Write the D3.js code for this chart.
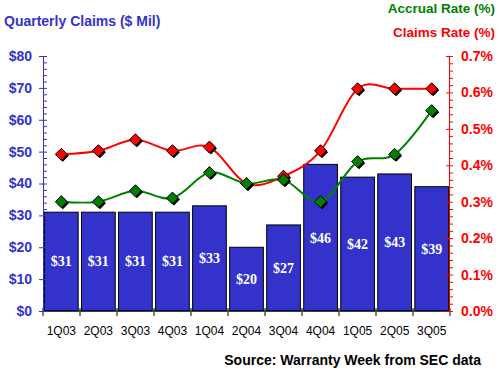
<!DOCTYPE html>
<html>
<head>
<meta charset="utf-8">
<script src="https://cdn.jsdelivr.net/npm/d3@7"></script>
<style>
  body { margin: 0; background: #fff; }
  svg { display: block; font-family: "Liberation Sans", Arial, sans-serif; }
</style>
</head>
<body>
<svg id="chart"></svg>
<script>
// данные графика
const quarters = ["1Q03", "2Q03", "3Q03", "4Q03", "1Q04", "2Q04", "3Q04", "4Q04", "1Q05", "2Q05", "3Q05"];
const claims = [31, 31, 31, 31, 33, 20, 27, 46, 42, 43, 39];
const claimsRate = [0.43, 0.44, 0.47, 0.44, 0.45, 0.35, 0.37, 0.44, 0.61, 0.61, 0.61];
const accrualRate = [0.30, 0.30, 0.33, 0.31, 0.38, 0.35, 0.36, 0.30, 0.41, 0.43, 0.55];
const leftTicks = [0, 10, 20, 30, 40, 50, 60, 70, 80];
const rightTicks = [0, 0.1, 0.2, 0.3, 0.4, 0.5, 0.6, 0.7];

const width = 500;
const height = 379;
const x0 = 43, x1 = 450;
const yTop = 56, yBottom = 311;
const blue = "#3333cc";

let svg = d3.select("#chart")
  .attr("width", width)
  .attr("height", height);

// шкалы
let scX = d3.scaleBand()
  .domain(quarters)
  .range([x0, x1])
  .paddingInner(0.09)
  .paddingOuter(0.04);

let scL = d3.scaleLinear().domain([0, 80]).range([yBottom, yTop]);
let scR = d3.scaleLinear().domain([0, 0.7]).range([yBottom, yTop]);

// столбцы
let bars = svg.append("g");
bars.selectAll("rect")
  .data(claims)
  .enter()
  .append("rect")
  .attr("x", (d, i) => scX(quarters[i]))
  .attr("y", d => scL(d))
  .attr("width", scX.bandwidth())
  .attr("height", d => yBottom - scL(d))
  .attr("fill", blue)
  .attr("stroke", "#000")
  .attr("stroke-width", 1);

bars.selectAll("text")
  .data(claims)
  .enter()
  .append("text")
  .attr("x", (d, i) => scX(quarters[i]) + scX.bandwidth() / 2)
  .attr("y", d => (scL(d) + yBottom) / 2)
  .attr("dy", "0.35em")
  .attr("text-anchor", "middle")
  .attr("fill", "#fff")
  .style("font-family", "'Liberation Serif', 'Times New Roman', serif")
  .style("font-size", "14px")
  .style("font-weight", "bold")
  .text(d => "$" + d);

// ось X
let cx = i => scX(quarters[i]) + scX.bandwidth() / 2;

let axX = svg.append("g").attr("transform", `translate(0, ${yBottom})`);
axX.append("line")
  .attr("x1", x0).attr("x2", x1)
  .attr("stroke", "#000");
axX.selectAll("line.tick")
  .data(d3.range(quarters.length + 1))
  .enter()
  .append("line")
  .attr("class", "tick")
  .attr("x1", i => x0 + i * (x1 - x0) / quarters.length)
  .attr("x2", i => x0 + i * (x1 - x0) / quarters.length)
  .attr("y1", -3).attr("y2", 5)
  .attr("stroke", "#000");
axX.selectAll("text")
  .data(quarters)
  .enter()
  .append("text")
  .attr("x", (d, i) => cx(i))
  .attr("y", 24)
  .attr("text-anchor", "middle")
  .style("font-size", "12px")
  .attr("fill", "#000")
  .text(d => d);

// левая ось
let minorL = d3.range(0, 81, 2);
svg.append("g")
  .attr("transform", `translate(${x0}, 0)`)
  .call(d3.axisRight(scL).tickValues(minorL).tickSize(4).tickFormat(""))
  .call(g => g.select(".domain").remove())
  .call(g => g.selectAll("line").attr("stroke", blue));

svg.append("g")
  .attr("transform", `translate(${x0}, 0)`)
  .call(d3.axisLeft(scL).tickValues(leftTicks).tickSize(4).tickSizeOuter(0).tickPadding(7).tickFormat(d => "$" + d))
  .call(g => g.select(".domain").attr("stroke", blue))
  .call(g => g.selectAll("line").attr("stroke", blue))
  .call(g => g.selectAll("text")
    .attr("fill", blue)
    .style("font-family", "'Liberation Sans', Arial, sans-serif")
    .style("font-size", "14px")
    .style("font-weight", "bold"));

// правая ось
let minorR = d3.range(0, 71, 2).map(v => v / 100);
svg.append("g")
  .attr("transform", `translate(${x1 - 1}, 0)`)
  .call(d3.axisRight(scR).tickValues(minorR).tickSize(4).tickFormat(""))
  .call(g => g.select(".domain").remove())
  .call(g => g.selectAll("line").attr("stroke", "#ff0000"));

svg.append("g")
  .attr("transform", `translate(${x1 - 1}, 0)`)
  .call(d3.axisLeft(scR).tickValues(rightTicks).tickSize(3).tickSizeOuter(0).tickFormat(""))
  .call(g => g.select(".domain").attr("stroke", "#ff0000"))
  .call(g => g.selectAll("line").attr("stroke", "#ff0000"));

svg.append("g")
  .attr("transform", `translate(${x1 - 1}, 0)`)
  .call(d3.axisRight(scR).tickValues(rightTicks).tickSize(0).tickPadding(12).tickFormat(d => d.toFixed(1) + "%"))
  .call(g => g.select(".domain").remove())
  .call(g => g.selectAll("text")
    .attr("fill", "#ff0000")
    .style("font-family", "'Liberation Sans', Arial, sans-serif")
    .style("font-size", "14px")
    .style("font-weight", "bold"));

// линии
function drawRate(values, color) {
  let line = d3.line()
    .x((d, i) => cx(i))
    .y(d => scR(d))
    .curve(d3.curveCatmullRom.alpha(0));

  svg.append("path")
    .datum(values)
    .attr("d", line)
    .attr("fill", "none")
    .attr("stroke", color)
    .attr("stroke-width", 2);

  let diamond = "M0,-6L6,0L0,6L-6,0Z";
  let g = svg.append("g");
  g.selectAll("path.shadow")
    .data(values)
    .enter()
    .append("path")
    .attr("class", "shadow")
    .attr("d", diamond)
    .attr("transform", (d, i) => `translate(${cx(i) + 1.5}, ${scR(d) + 1.5})`)
    .attr("fill", "#000");
  g.selectAll("path.mark")
    .data(values)
    .enter()
    .append("path")
    .attr("class", "mark")
    .attr("d", diamond)
    .attr("transform", (d, i) => `translate(${cx(i)}, ${scR(d)})`)
    .attr("fill", color)
    .attr("stroke", "#000")
    .attr("stroke-width", 1);
}

drawRate(claimsRate, "#ff0000");
drawRate(accrualRate, "#008000");

// подписи
svg.append("text")
  .attr("x", 4).attr("y", 26)
  .attr("fill", blue)
  .style("font-size", "14px")
  .style("font-weight", "bold")
  .text("Quarterly Claims ($ Mil)");

svg.append("text")
  .attr("x", 495).attr("y", 13)
  .attr("text-anchor", "end")
  .attr("fill", "#008000")
  .style("font-size", "13.5px")
  .style("font-weight", "bold")
  .text("Accrual Rate (%)");

svg.append("text")
  .attr("x", 495).attr("y", 37)
  .attr("text-anchor", "end")
  .attr("fill", "#ff0000")
  .style("font-size", "13.5px")
  .style("font-weight", "bold")
  .text("Claims Rate (%)");

svg.append("text")
  .attr("x", 481).attr("y", 365)
  .attr("text-anchor", "end")
  .attr("fill", "#000")
  .style("font-size", "14px")
  .style("font-weight", "bold")
  .text("Source: Warranty Week from SEC data");
</script>
</body>
</html>
